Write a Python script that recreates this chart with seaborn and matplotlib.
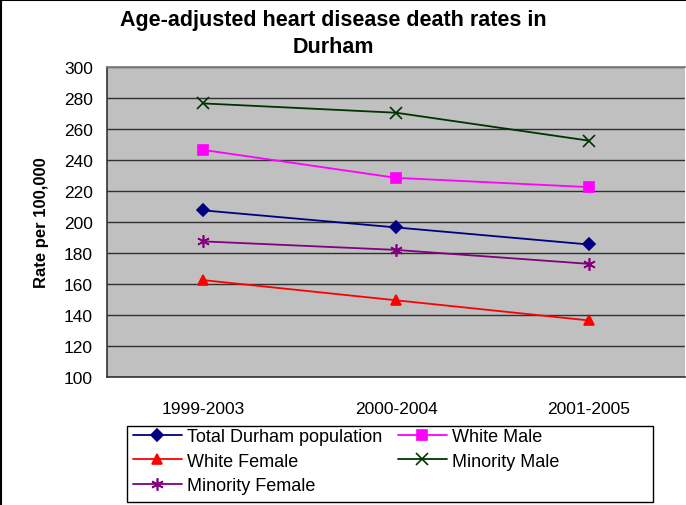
import numpy as np
import pandas as pd
import seaborn as sns
import matplotlib.pyplot as plt
from matplotlib.lines import Line2D
from matplotlib.patches import Rectangle

# values
periods = ["1999-2003", "2000-2004", "2001-2005"]
total_durham = [207.5, 196.5, 185.5]
white_male = [246.5, 228.5, 222.5]
white_female = [162.5, 149.5, 136.5]
minority_male = [276.5, 270.5, 252.5]
minority_female = [187.5, 182.0, 173.0]

series = {
    "Total Durham population": total_durham,
    "White Male": white_male,
    "White Female": white_female,
    "Minority Male": minority_male,
    "Minority Female": minority_female,
}
colors = {
    "Total Durham population": "#000080",
    "White Male": "#FF00FF",
    "White Female": "#FF0000",
    "Minority Male": "#003300",
    "Minority Female": "#800080",
}
markers = {
    "Total Durham population": "D",
    "White Male": "s",
    "White Female": "^",
    "Minority Male": "x",
    "Minority Female": (6, 2, 0),
}
msizes = {
    "Total Durham population": 6.5,
    "White Male": 6.5,
    "White Female": 7.5,
    "Minority Male": 8,
    "Minority Female": 9,
}

rows = []
for name, vals in series.items():
    for i, v in enumerate(vals):
        rows.append({"pos": i, "period": periods[i], "group": name, "rate": v})
df = pd.DataFrame(rows)

sns.set_theme(style="white")
plt.rcParams["font.family"] = ["Liberation Sans", "DejaVu Sans"]
plt.rcParams["text.color"] = "black"
plt.rcParams["axes.labelcolor"] = "black"
plt.rcParams["xtick.color"] = "black"
plt.rcParams["ytick.color"] = "black"

fig = plt.figure(figsize=(6.86, 5.06), dpi=100)
ax = fig.add_axes([107 / 686, 1 - 378 / 506, 578 / 686, 310 / 506])
ax.set_facecolor("#C0C0C0")

# one call per series, since filled and line-art markers can't be mixed in one
for name in series:
    sub = df[df["group"] == name]
    sns.lineplot(data=sub, x="pos", y="rate", color=colors[name],
                 marker=markers[name], markeredgecolor=colors[name],
                 ax=ax, linewidth=1.3, markersize=msizes[name], markeredgewidth=1.2,
                 legend=False)

ax.set_xlim(-0.5, 2.5)
ax.set_ylim(100, 300)
ax.set_yticks(np.arange(100, 301, 20))
ax.grid(axis="y", color="#303030", linewidth=1.0)
ax.set_axisbelow(True)
ax.set_xticks(range(3))
ax.set_xticklabels(periods, fontsize=12.5)
ax.set_xticks([0.5, 1.5], minor=True)
ax.tick_params(axis="x", which="major", length=0, pad=17)
ax.tick_params(axis="x", which="minor", length=5, width=1, color="#333333", direction="out")
ax.tick_params(axis="y", length=5, width=1, color="#333333", direction="out", labelsize=12.5, pad=5)
ax.tick_params(axis="both", which="major", labelcolor="black")
for side in ["left", "bottom"]:
    ax.spines[side].set_color("#333333")
    ax.spines[side].set_linewidth(1.2)
ax.spines["top"].set_color("#808080")
ax.spines["right"].set_visible(False)
ax.set_xlabel("")
ax.set_ylabel("Rate per 100,000", fontsize=12, fontweight="bold", labelpad=11)

fig.text(333 / 686, 1 - 10 / 506,
         "Age-adjusted heart disease death rates in\nDurham",
         ha="center", va="top", fontsize=15.5, fontweight="bold", linespacing=1.4)

# legend laid out row-wise like the original (2 columns)
order = ["Total Durham population", "White Female", "Minority Female",
         "White Male", "Minority Male"]
handles = [Line2D([], [], color=colors[g], marker=markers[g], markersize=msizes[g],
                  markeredgewidth=1.2, linewidth=1.3) for g in order]
leg = fig.legend(handles, order, ncol=2, loc="upper left",
                 bbox_to_anchor=(133 / 686, 1 - 429 / 506),
                 fontsize=13, frameon=False,
                 handlelength=2.7, handletextpad=0.3, labelspacing=0.42,
                 borderpad=0, borderaxespad=0, columnspacing=0.85)
fig.add_artist(Rectangle((127 / 686, 3 / 506), 526 / 686, 76 / 506, fill=False,
                         edgecolor="black", linewidth=1.0, transform=fig.transFigure))

# figure border on left and top edges
fig.add_artist(Line2D([1 / 686, 1 / 686], [0, 1 - 1 / 506], color="black", linewidth=1.5,
                      transform=fig.transFigure))
fig.add_artist(Line2D([1 / 686, 1], [1 - 1 / 506, 1 - 1 / 506], color="black", linewidth=1.5,
                      transform=fig.transFigure))

fig.savefig("out.png", dpi=100)
plt.close("all")
